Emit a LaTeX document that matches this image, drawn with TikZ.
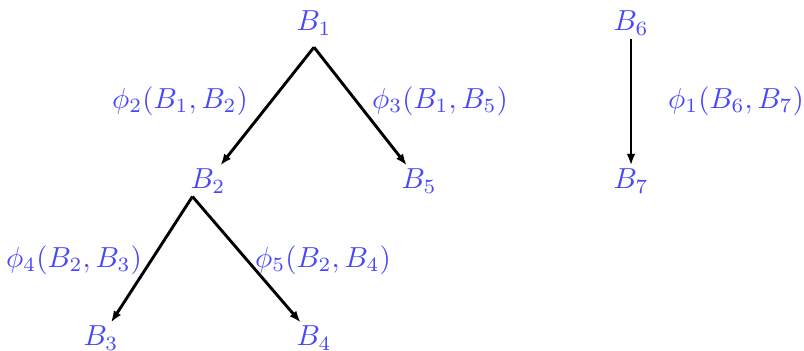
\documentclass[tikz,border=0pt]{standalone}
\usepackage{xcolor}
\usepackage{amsmath}
\usepackage{tikz}
\usetikzlibrary{arrows.meta}

\definecolor{labelblue}{RGB}{72,72,250}

\begin{document}
\begin{tikzpicture}[
  x=0.345pt, y=-0.345pt,
  var/.style={text=labelblue, inner sep=1pt},
  fac/.style={text=labelblue},
  arr/.style={-{Latex[length=4pt,width=3pt]}, line width=1pt}
]
  \useasboundingbox (0,0) rectangle (804,351);

  % variables
  \node[var] (b1) at (314,23)  {$B_1$};
  \node[var] (b2) at (208,181) {$B_2$};
  \node[var] (b5) at (419,181) {$B_5$};
  \node[var] (b3) at (101,338) {$B_3$};
  \node[var] (b4) at (314,338) {$B_4$};
  \node[var] (b6) at (631,23)  {$B_6$};
  \node[var] (b7) at (631,181) {$B_7$};

  % factors
  \node[fac] (f2) at (180,101) {$\phi_2(B_1,B_2)$};
  \node[fac] (f3) at (440,101) {$\phi_3(B_1,B_5)$};
  \node[fac] (f4) at (74,260)  {$\phi_4(B_2,B_3)$};
  \node[fac] (f5) at (323,260) {$\phi_5(B_2,B_4)$};
  \node[fac] (f1) at (736,101) {$\phi_1(B_6,B_7)$};

  \draw[arr] ([yshift=-3pt]b1.south) -- (b2);
  \draw[arr] ([yshift=-3pt]b1.south) -- (b5);
  \draw[arr] (b2.-135) -- (b3);
  \draw[arr] (b2.-135) -- (b4);
  \draw[arr] (b6) -- (b7);
\end{tikzpicture}
\end{document}
